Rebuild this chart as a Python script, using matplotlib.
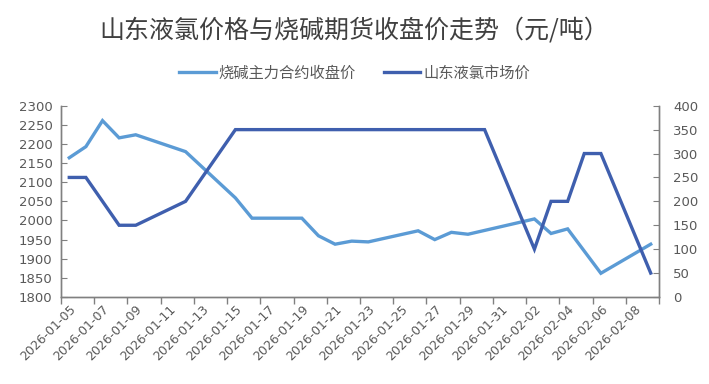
import matplotlib
matplotlib.use("Agg")
import matplotlib.pyplot as plt
import numpy as np
import pandas as pd

plt.rcParams['font.family'] = ['Noto Sans CJK SC', 'DejaVu Sans']

title = "山东液氯价格与烧碱期货收盘价走势（元/吨）"
label_naoh = "烧碱主力合约收盘价"
label_cl = "山东液氯市场价"

dates = ["2026-01-05", "2026-01-06", "2026-01-07", "2026-01-08", "2026-01-09",
         "2026-01-12", "2026-01-15", "2026-01-16", "2026-01-19", "2026-01-20",
         "2026-01-21", "2026-01-22", "2026-01-23", "2026-01-26", "2026-01-27",
         "2026-01-28", "2026-01-29", "2026-01-30", "2026-02-02", "2026-02-03",
         "2026-02-04", "2026-02-05", "2026-02-06", "2026-02-09"]
naoh_close = [2164, 2193, 2261, 2216, 2224,
              2180, 2059, 2006, 2006, 1960,
              1938, 1946, 1944, 1973, 1950,
              1969, 1964, 1974, 2004, 1966,
              1978, 1920, 1862, 1938]
chlorine_price = [250, 250, 200, 150, 150,
                  200, 350, 350, 350, 350,
                  350, 350, 350, 350, 350,
                  350, 350, 350, 100, 200,
                  200, 300, 300, 50]

start = pd.Timestamp("2026-01-05")
end = pd.Timestamp("2026-02-10")
dt = pd.to_datetime(dates)
xd = np.array([(d - start).days for d in dt])
ndays = (end - start).days

fig = plt.figure(figsize=(7.09, 3.84), dpi=100)
ax = fig.add_axes([0.086, 0.2266, 0.9295 - 0.086, 0.7247 - 0.2266])
ax2 = ax.twinx()

c_light = "#5B9BD5"
c_dark = "#3F5FAE"
ax.plot(xd, naoh_close, color=c_light, lw=2.4, solid_joinstyle='miter', zorder=3)
ax2.plot(xd, chlorine_price, color=c_dark, lw=2.4, solid_joinstyle='miter', zorder=3)

ax.set_xlim(-0.5, ndays - 0.5)
ax.set_ylim(1800, 2300)
ax.set_yticks(np.arange(1800, 2301, 50))
ax2.set_ylim(0, 400)
ax2.set_yticks(np.arange(0, 401, 50))

major = np.arange(-0.5, ndays, 2)
ax.set_xticks(major)
ax.set_xticklabels([])
lab_pos = np.arange(0, ndays - 1, 2)
ax.set_xticks(lab_pos, minor=True)
ax.set_xticklabels([(start + pd.Timedelta(days=int(p))).strftime("%Y-%m-%d") for p in lab_pos],
                   minor=True, rotation=45, ha='right', rotation_mode='anchor',
                   fontsize=9, color="#595959", family=['DejaVu Sans'])
ax.tick_params(axis='x', which='minor', length=0, pad=4)
ax.tick_params(axis='x', which='major', length=5, direction='out', color='#808080', width=1)

ax.tick_params(axis='y', direction='in', length=4, color='#808080', labelsize=9.5,
               labelcolor='#595959', pad=6)
ax2.tick_params(axis='y', direction='in', length=4, color='#808080', labelsize=9.5,
                labelcolor='#595959', pad=10)
for a in (ax, ax2):
    a.spines['top'].set_visible(False)
    for s in ('left', 'right', 'bottom'):
        a.spines[s].set_color('#808080')
        a.spines[s].set_linewidth(1)
    for lab in a.get_yticklabels():
        lab.set_family(['DejaVu Sans'])

fig.text(0.5, 0.92, title, ha='center', va='center', fontsize=18, color='#404040')

from matplotlib.lines import Line2D
handles = [Line2D([], [], color=c_light, lw=2.4), Line2D([], [], color=c_dark, lw=2.4)]
fig.legend(handles, [label_naoh, label_cl], loc='center', bbox_to_anchor=(0.5, 0.81),
           ncol=2, frameon=False, fontsize=11, handlelength=2.4, handletextpad=0.2,
           columnspacing=1.8, labelcolor='#595959')

fig.savefig("out.png", dpi=100)
